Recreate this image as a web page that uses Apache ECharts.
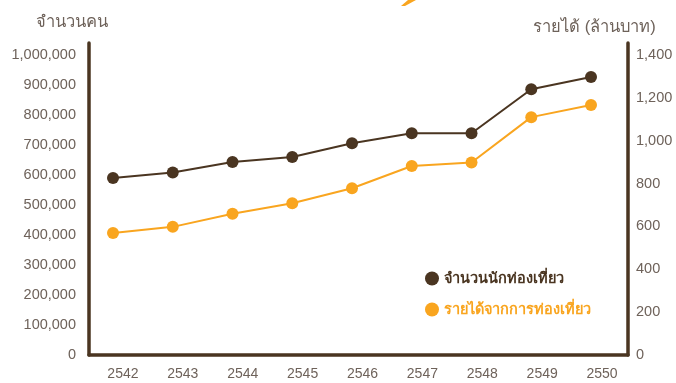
<!DOCTYPE html>
<html>
<head>
<meta charset="utf-8">
<script src="https://cdn.jsdelivr.net/npm/echarts@6/dist/echarts.min.js"></script>
<style>
html,body{margin:0;padding:0;background:#fff;}
#c{width:676px;height:383px;}
</style>
</head>
<body>
<div id="c"></div>
<script>
var years = ['2542','2543','2544','2545','2546','2547','2548','2549','2550'];
var visitors = [590000, 608000, 643000, 660000, 706000, 739000, 739000, 886000, 927000];
var income = [569, 598, 659, 708, 778, 882, 898, 1110, 1167];
var leftTicks = {min: 0, max: 1040000, interval: 100000};
var rightTicks = {min: 0, max: 1456, interval: 200};
var seriesNames = ['จำนวนนักท่องเที่ยว', 'รายได้จากการท่องเที่ยว'];

var DARK = '#4a3521';
var ORANGE = '#f9a51f';
var TXT = '#6e625a';
var FONT = "'Liberation Sans', Arial, sans-serif";

var chart = echarts.init(document.getElementById('c'));
chart.setOption({
  animation: false,
  backgroundColor: '#fff',
  grid: {left: 89, right: 48, top: 43, bottom: 28, containLabel: false},
  graphic: [{
    type: 'polygon',
    shape: {points: [[401, 6], [405, 6], [416, 0], [408, 0]]},
    style: {fill: ORANGE}
  }],
  legend: {
    orient: 'vertical',
    left: 420,
    top: 266,
    itemWidth: 14,
    itemHeight: 14,
    itemGap: 16,
    icon: 'circle',
    textStyle: {fontSize: 14.5, fontWeight: 'bold', fontFamily: FONT},
    data: [
      {name: seriesNames[0], textStyle: {color: DARK}},
      {name: seriesNames[1], textStyle: {color: ORANGE}}
    ]
  },
  xAxis: [{
    type: 'category',
    data: years,
    boundaryGap: true,
    axisLine: {lineStyle: {color: DARK, width: 3.5}},
    axisTick: {show: false},
    axisLabel: {color: TXT, fontSize: 14, fontFamily: FONT, margin: 12, padding: [0, 0, 0, 8]}
  }, {
    type: 'value',
    min: -0.4017,
    max: 8.619,
    show: false
  }],
  yAxis: [{
    type: 'value',
    position: 'left',
    min: leftTicks.min, max: leftTicks.max, interval: leftTicks.interval,
    name: 'จำนวนคน',
    nameLocation: 'end',
    nameGap: 12,
    nameTextStyle: {color: TXT, fontSize: 16.5, fontFamily: FONT, padding: [0, 34, 0, 0]},
    axisLine: {show: true, onZero: false, lineStyle: {color: DARK, width: 3.5}},
    axisTick: {show: false},
    splitLine: {show: false},
    axisLabel: {
      color: TXT, fontSize: 14.5, fontFamily: FONT, margin: 13, showMaxLabel: false,
      formatter: function (v) { return v.toLocaleString('en-US'); }
    }
  }, {
    type: 'value',
    position: 'right',
    min: rightTicks.min, max: rightTicks.max, interval: rightTicks.interval,
    name: 'รายได้ (ล้านบาท)',
    nameLocation: 'end',
    nameGap: 7,
    nameTextStyle: {color: TXT, fontSize: 16.5, fontFamily: FONT, padding: [0, 67, 0, 0]},
    axisLine: {show: true, onZero: false, lineStyle: {color: DARK, width: 3.5}},
    axisTick: {show: false},
    splitLine: {show: false},
    axisLabel: {
      color: TXT, fontSize: 14.5, fontFamily: FONT, margin: 8, showMaxLabel: false,
      formatter: function (v) { return v.toLocaleString('en-US'); }
    }
  }],
  series: [{
    name: seriesNames[0],
    type: 'line',
    xAxisIndex: 1,
    yAxisIndex: 0,
    data: visitors.map(function (v, i) { return [i, v]; }),
    symbol: 'circle',
    symbolSize: 12,
    itemStyle: {color: DARK},
    lineStyle: {color: DARK, width: 2}
  }, {
    name: seriesNames[1],
    type: 'line',
    xAxisIndex: 1,
    yAxisIndex: 1,
    data: income.map(function (v, i) { return [i, v]; }),
    symbol: 'circle',
    symbolSize: 12,
    itemStyle: {color: ORANGE},
    lineStyle: {color: ORANGE, width: 2}
  }]
});
</script>
</body>
</html>
